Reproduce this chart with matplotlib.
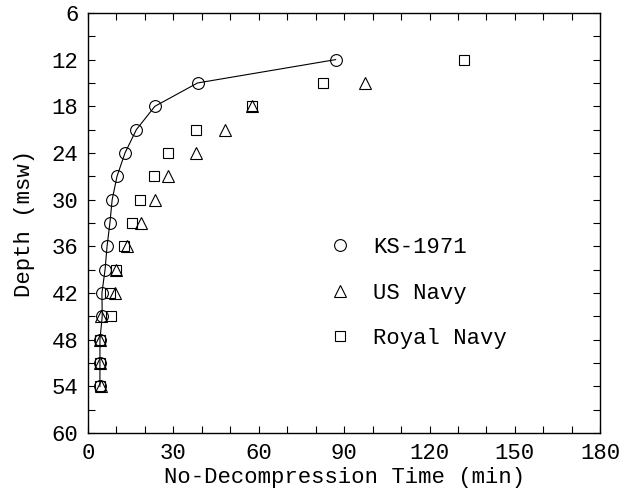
import numpy as np
import matplotlib
matplotlib.use('Agg')
import matplotlib.pyplot as plt
from matplotlib.ticker import MultipleLocator, FuncFormatter

# depth (msw) and no-decompression time (min)
depth = [12, 15, 18, 21, 24, 27, 30, 33, 36, 39, 42, 45, 48, 51, 54]
ks_1971 = [87, 38.5, 23.5, 17, 13, 10.2, 8.5, 7.7, 6.7, 6.0, 4.9, 5.0, 4.2, 4.2, 4.2]

depth_usn = [15, 18, 21, 24, 27, 30, 33, 36, 39, 42, 45, 48, 51, 54]
us_navy = [97.5, 57.7, 48.2, 38, 28.2, 23.6, 18.7, 13.7, 10, 9.5, 4.4, 4.2, 4.2, 4.6]

depth_rn = [12, 15, 18, 21, 24, 27, 30, 33, 36, 39, 42, 45, 48, 51, 54]
royal_navy = [132, 82.7, 57.7, 38, 28.2, 23.2, 18.3, 15.5, 12.7, 10, 7.6, 8.1, 4.2, 4.2, 4.2]

plt.rcParams['font.family'] = ['Liberation Mono', 'DejaVu Sans Mono']
plt.rcParams['font.size'] = 16

fig = plt.figure(figsize=(6.24, 4.98), dpi=100)
ax = fig.add_axes([0.141, 0.1305, 0.821, 0.8435])

# KS-1971 curve + markers
ax.plot(ks_1971, depth, '-', color='black', lw=0.8)
ax.plot(ks_1971, depth, 'o', ls='none', ms=8.5, mfc='none', mec='black', mew=0.8,
        label='KS-1971')
ax.plot(us_navy, depth_usn, '^', ls='none', ms=9, mfc='none', mec='black', mew=0.8,
        label='US Navy')
ax.plot(royal_navy, depth_rn, 's', ls='none', ms=7.5, mfc='none', mec='black', mew=0.8,
        label='Royal Navy')

ax.set_xlim(0, 180)
ax.set_ylim(60, 6)

ax.xaxis.set_major_locator(MultipleLocator(10))
ax.yaxis.set_major_locator(MultipleLocator(3))
ax.xaxis.set_major_formatter(FuncFormatter(lambda v, p: f'{int(v)}' if int(round(v)) % 30 == 0 else ''))
ax.yaxis.set_major_formatter(FuncFormatter(lambda v, p: f'{int(v)}' if int(round(v)) % 6 == 0 else ''))
ax.tick_params(direction='in', length=5, width=0.8, top=True, right=True, pad=7)

for s in ax.spines.values():
    s.set_linewidth(1.0)

ax.set_xlabel('No-Decompression Time (min)', labelpad=2)
ax.set_ylabel('Depth (msw)', labelpad=12)

ax.legend(loc='center left', bbox_to_anchor=(0.47, 0.333), frameon=False,
          handlelength=1.0, handletextpad=1.0, labelspacing=1.1,
          borderaxespad=0, borderpad=0, markerscale=1.0)

fig.savefig('out.png', dpi=100)
